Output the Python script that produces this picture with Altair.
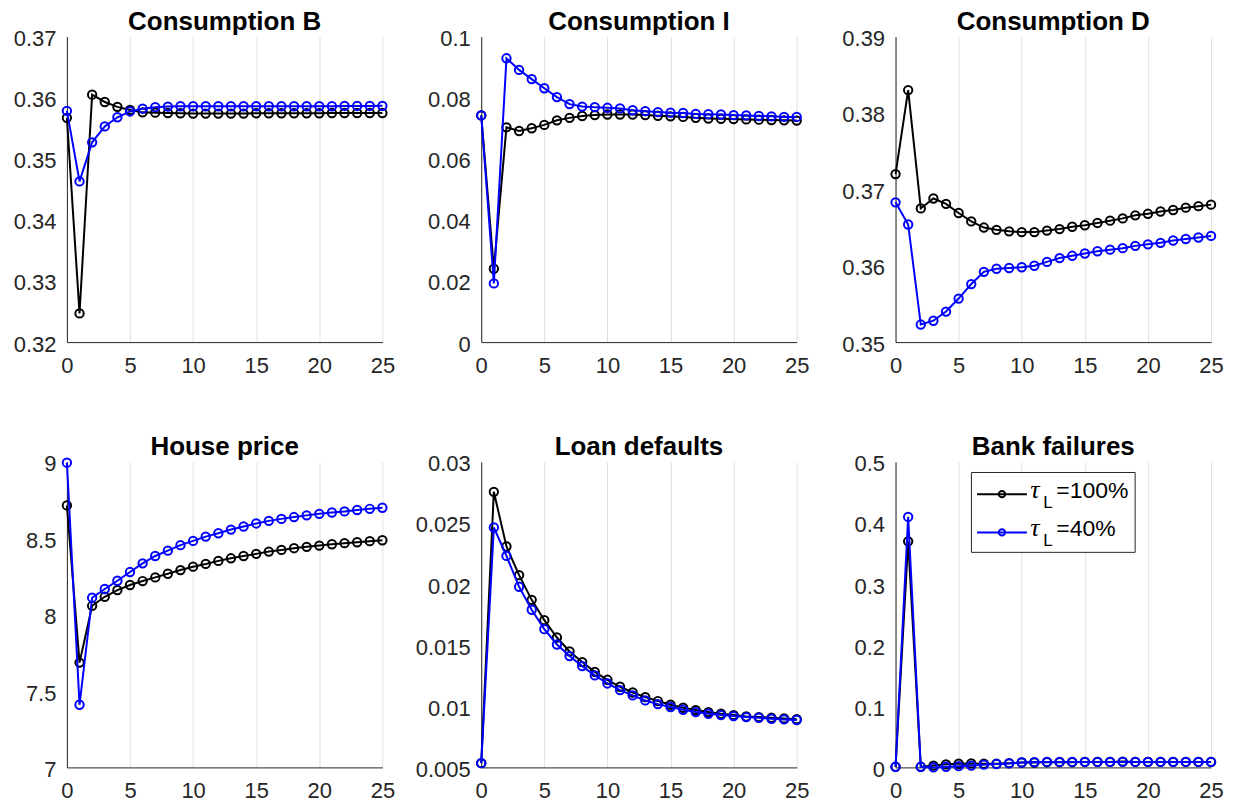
import altair as alt
import pandas as pd

t = list(range(26))

titles = ["Consumption B", "Consumption I", "Consumption D",
          "House price", "Loan defaults", "Bank failures"]

cb_100 = [0.3567, 0.3247, 0.3605, 0.3593, 0.3585, 0.3580, 0.3576, 0.35755, 0.3575, 0.35745,
          0.3574, 0.3574, 0.3574, 0.3574, 0.3574, 0.35745, 0.35745, 0.35745, 0.35745, 0.35745,
          0.35745, 0.3575, 0.3575, 0.3575, 0.3575, 0.3575]
cb_40 = [0.35785, 0.3463, 0.3527, 0.3553, 0.3568, 0.35775, 0.3582, 0.35845, 0.35855, 0.3586,
         0.3586, 0.3586, 0.3586, 0.3586, 0.3586, 0.3586, 0.3586, 0.3586, 0.3586, 0.3586,
         0.3586, 0.3586, 0.35865, 0.35865, 0.35865, 0.35867]

ci_100 = [0.0742, 0.0240, 0.0703, 0.0691, 0.0700, 0.0711, 0.0726, 0.0734, 0.0740, 0.0743,
          0.0745, 0.0745, 0.0745, 0.0743, 0.0741, 0.0739, 0.0737, 0.0734, 0.0732, 0.0731,
          0.0730, 0.0729, 0.0728, 0.0727, 0.0726, 0.0725]
ci_40 = [0.0742, 0.0192, 0.0929, 0.0891, 0.0861, 0.0831, 0.0802, 0.0779, 0.0771, 0.0769,
         0.0767, 0.0765, 0.0759, 0.0756, 0.0753, 0.0751, 0.0750, 0.0747, 0.0746, 0.0745,
         0.0743, 0.0742, 0.0740, 0.0739, 0.0737, 0.0737]

cd_100 = [0.3720, 0.3830, 0.3675, 0.3688, 0.3681, 0.3669, 0.3658, 0.3650, 0.3647, 0.3645,
          0.3644, 0.3644, 0.3646, 0.3648, 0.3651, 0.3653, 0.3656, 0.3659, 0.3662, 0.3666,
          0.3668, 0.3671, 0.3673, 0.3676, 0.3678, 0.3680]
cd_40 = [0.3683, 0.3654, 0.3523, 0.3528, 0.3540, 0.3557, 0.3576, 0.3592, 0.3596, 0.3597,
         0.3598, 0.3600, 0.3605, 0.3610, 0.3613, 0.3616, 0.3619, 0.3621, 0.3623, 0.3626,
         0.3628, 0.3630, 0.3633, 0.3635, 0.3637, 0.3639]

hp_100 = [8.715, 7.686, 8.058, 8.117, 8.161, 8.194, 8.220, 8.244, 8.268, 8.292,
          8.314, 8.332, 8.352, 8.369, 8.384, 8.398, 8.413, 8.424, 8.435, 8.444,
          8.452, 8.461, 8.468, 8.474, 8.481, 8.487]
hp_40 = [8.995, 7.410, 8.111, 8.168, 8.222, 8.279, 8.336, 8.384, 8.419, 8.455,
         8.483, 8.511, 8.533, 8.557, 8.577, 8.597, 8.614, 8.627, 8.639, 8.650,
         8.660, 8.669, 8.676, 8.685, 8.693, 8.700]

ld_100 = [0.00535, 0.02755, 0.02308, 0.02073, 0.01871, 0.01705, 0.01563, 0.01449, 0.01362, 0.01282,
          0.01217, 0.01160, 0.01113, 0.01075, 0.01043, 0.01013, 0.00988, 0.00969, 0.00953, 0.00939,
          0.00928, 0.00917, 0.00912, 0.00906, 0.00901, 0.00895]
ld_40 = [0.00535, 0.02463, 0.02231, 0.01978, 0.01790, 0.01631, 0.01506, 0.01411, 0.01329, 0.01253,
         0.01187, 0.01133, 0.01089, 0.01048, 0.01018, 0.00994, 0.00972, 0.00953, 0.00939, 0.00928,
         0.00920, 0.00912, 0.00906, 0.00898, 0.00893, 0.00888]

bf_100 = [0.001, 0.370, 0.001, 0.003, 0.005, 0.006, 0.0065, 0.006, 0.006, 0.007,
          0.008, 0.008, 0.0085, 0.0085, 0.0085, 0.009, 0.009, 0.009, 0.0095, 0.009,
          0.009, 0.009, 0.009, 0.009, 0.009, 0.009]
bf_40 = [0.001, 0.410, 0.001, 0.000, 0.001, 0.002, 0.003, 0.0045, 0.0055, 0.0065,
         0.008, 0.0087, 0.009, 0.009, 0.009, 0.009, 0.009, 0.009, 0.009, 0.009,
         0.009, 0.009, 0.009, 0.009, 0.009, 0.009]

series_100 = [cb_100, ci_100, cd_100, hp_100, ld_100, bf_100]
series_40 = [cb_40, ci_40, cd_40, hp_40, ld_40, bf_40]

y_domains = [[0.32, 0.37], [0.0, 0.1], [0.35, 0.39], [7.0, 9.0], [0.005, 0.03], [0.0, 0.5]]
y_ticks = [[0.32, 0.33, 0.34, 0.35, 0.36, 0.37],
           [0, 0.02, 0.04, 0.06, 0.08, 0.1],
           [0.35, 0.36, 0.37, 0.38, 0.39],
           [7, 7.5, 8, 8.5, 9],
           [0.005, 0.01, 0.015, 0.02, 0.025, 0.03],
           [0, 0.1, 0.2, 0.3, 0.4, 0.5]]
x_ticks = [0, 5, 10, 15, 20, 25]

legend_labels = ["=100%", "=40%"]
colors = ["#000000", "#0000FF"]

FONT = "Liberation Sans, Arial, Helvetica, sans-serif"
SERIF = "Liberation Serif, DejaVu Serif, serif"
W, H = 316, 306


def panel(i):
    xenc = alt.X("t:Q", scale=alt.Scale(domain=[0, 25], nice=False),
                 axis=alt.Axis(values=x_ticks, title=None, grid=True, gridColor="#e0e0e0",
                               labelPadding=13, labelFlush=False, labelOverlap=False))
    yenc = alt.Y("v:Q", scale=alt.Scale(domain=y_domains[i], nice=False, zero=False),
                 axis=alt.Axis(values=y_ticks[i], title=None, grid=False, format="~g",
                               labelPadding=11, labelFlush=False, labelOverlap=False,
                               labelOffset=2))
    layers = []
    for vals, col in [(series_100[i], colors[0]), (series_40[i], colors[1])]:
        df = pd.DataFrame({"t": t, "v": vals})
        base = alt.Chart(df).encode(x=xenc, y=yenc)
        layers.append(base.mark_line(color=col, strokeWidth=2))
        layers.append(base.mark_point(shape="circle", filled=False, color=col, size=70,
                                      strokeWidth=2, opacity=1))
    if i == 5:
        one = alt.Data(values=[{"k": 0}])
        layers.append(alt.Chart(one).mark_rect(fill="white", stroke="#262626", strokeWidth=1)
                      .encode(x=alt.value(76), x2=alt.value(240), y=alt.value(10.6), y2=alt.value(90.6)))
        for j, (yl, col, lab) in enumerate([(32.3, colors[0], legend_labels[0]),
                                            (70.6, colors[1], legend_labels[1])]):
            layers.append(alt.Chart(one).mark_rule(color=col, strokeWidth=2)
                          .encode(x=alt.value(81.6), x2=alt.value(131.6), y=alt.value(yl)))
            layers.append(alt.Chart(one).mark_point(shape="circle", filled=False, color=col,
                                                    size=40, strokeWidth=2, opacity=1)
                          .encode(x=alt.value(106.6), y=alt.value(yl)))
            yb = yl + 3.5
            layers.append(alt.Chart(one).mark_text(text="τ", align="left", baseline="alphabetic",
                                                   fontSize=26, font=SERIF, fontStyle="italic",
                                                   color="black")
                          .encode(x=alt.value(135), y=alt.value(yb)))
            layers.append(alt.Chart(one).mark_text(text="L", align="left", baseline="alphabetic",
                                                   fontSize=17, font=FONT, color="black")
                          .encode(x=alt.value(148), y=alt.value(yb + 10)))
            layers.append(alt.Chart(one).mark_text(text=lab, align="left", baseline="alphabetic",
                                                   fontSize=23, font=FONT, color="black")
                          .encode(x=alt.value(161), y=alt.value(yb)))
    return alt.layer(*layers).properties(
        width=W, height=H,
        title=alt.TitleParams(titles[i], fontSize=26, fontWeight="bold", font=FONT,
                              color="black", anchor="middle", frame="group", offset=-7))


chart = alt.concat(*[panel(i) for i in range(6)], columns=3,
                   spacing={"row": 120, "column": 99}, bounds="flush").properties(
    padding={"left": 5, "top": 0, "right": 5, "bottom": 0},
    background="white",
).configure_view(stroke=None).configure_axis(
    labelFont=FONT, labelFontSize=22, labelColor="#262626",
    domainColor="#262626", domainWidth=1, ticks=False, tickSize=0,
)

chart.save("out.html", embed_options={"renderer": "svg", "actions": False})
